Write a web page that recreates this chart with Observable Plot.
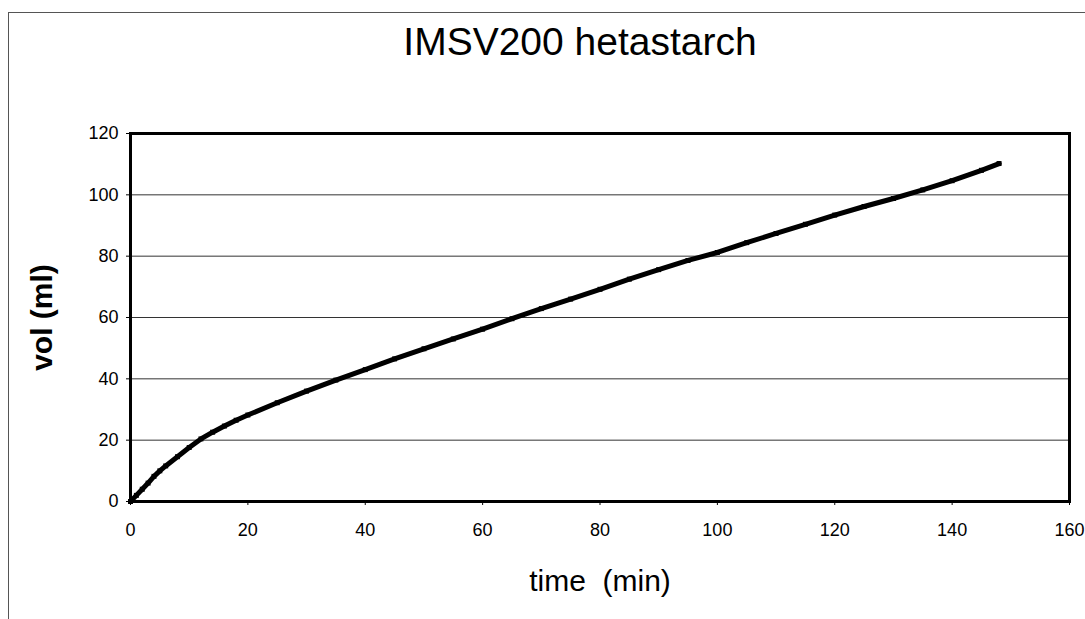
<!DOCTYPE html>
<html>
<head>
<meta charset="utf-8">
<script src="https://cdn.jsdelivr.net/npm/d3@7"></script>
<script src="https://cdn.jsdelivr.net/npm/@observablehq/plot@0.6"></script>
<style>
  html, body { margin: 0; padding: 0; background: #fff; }
  #wrap { position: relative; width: 1085px; height: 619px; overflow: hidden; }
  #border { position: absolute; left: 8px; top: 12px; width: 1200px; height: 700px;
            border-top: 1px solid #555; border-left: 1px solid #555; }
  #chart { position: absolute; left: 0; top: 0; }
</style>
</head>
<body>
<div id="wrap"><div id="border"></div><div id="chart"></div></div>
<script>
const title = "IMSV200 hetastarch";
const xLabel = "time  (min)";
const yLabel = "vol (ml)";
const xTicks = [0, 20, 40, 60, 80, 100, 120, 140, 160];
const yTicks = [0, 20, 40, 60, 80, 100, 120];

const time = [0, 1, 2, 3, 4, 5, 6, 8, 10, 12, 14, 16, 18, 20, 25, 30, 35, 40, 45, 50, 55, 60, 65, 70, 75, 80, 85, 90, 95, 100, 105, 110, 115, 120, 125, 130, 135, 140, 145, 148];
const vol  = [0, 2, 4, 6, 8.2, 10, 11.6, 14.6, 17.6, 20.4, 22.6, 24.6, 26.5, 28.2, 32.2, 36, 39.6, 43, 46.5, 49.8, 53, 56.2, 59.6, 62.9, 66, 69.2, 72.5, 75.6, 78.6, 81.2, 84.4, 87.4, 90.4, 93.4, 96.2, 98.8, 101.6, 104.6, 108, 110.2];

const font = "'Liberation Sans', Arial, sans-serif";

const chart = Plot.plot({
  width: 1085,
  height: 619,
  marginLeft: 130,
  marginRight: 16,
  marginTop: 133,
  marginBottom: 118,
  style: { fontFamily: font, fontSize: "18px", color: "black", background: "transparent" },
  x: { domain: [0, 160], ticks: xTicks, tickSize: 4, tickPadding: 18, label: null },
  y: { domain: [0, 120], ticks: yTicks, tickSize: 4, tickPadding: 8, label: null },
  marks: [
    Plot.ruleY(yTicks, { stroke: "#333", strokeWidth: 1 }),
    Plot.line(time, { x: time, y: vol, stroke: "black", strokeWidth: 5 }),
    Plot.dot(time, { x: time, y: vol, symbol: "square", r: 2.8, fill: "black" }),
    Plot.frame({ stroke: "black", strokeWidth: 3 }),
    Plot.axisX({ ticks: xTicks, tickSize: 4, tickPadding: 18, label: null, fontSize: 18 }),
    Plot.axisY({ ticks: yTicks, tickSize: 4, tickPadding: 8, label: null, fontSize: 18 }),
    Plot.text([title], { frameAnchor: "top", lineAnchor: "middle", textAnchor: "middle", dy: -91, dx: -20, fontSize: 39, fill: "black" }),
    Plot.text([xLabel], { frameAnchor: "bottom", lineAnchor: "middle", textAnchor: "middle", dy: 80, fontSize: 30, fill: "black" }),
    Plot.text([yLabel], { frameAnchor: "left", lineAnchor: "middle", textAnchor: "middle", dx: -88, rotate: -90, fontSize: 30, fontWeight: "bold", fill: "black" })
  ]
});
document.getElementById("chart").appendChild(chart);
</script>
</body>
</html>
